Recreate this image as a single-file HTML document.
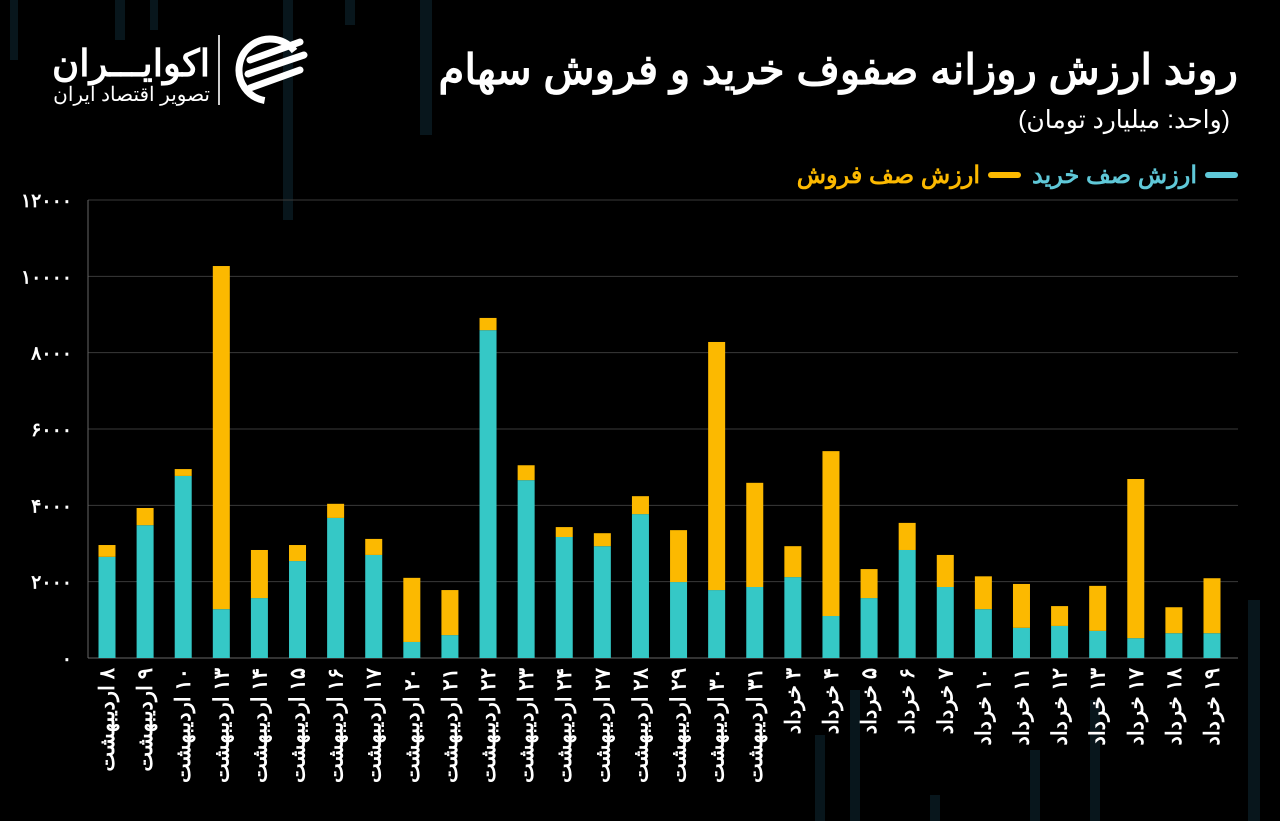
<!DOCTYPE html>
<html><head><meta charset="utf-8">
<style>
html,body{margin:0;padding:0;background:#000;}
#wrap{position:relative;width:1280px;height:821px;overflow:hidden;background:#000;font-family:"Liberation Sans","Noto Sans CJK SC",sans-serif;}
svg text{font-family:"Liberation Sans","Noto Sans CJK SC",sans-serif;}
</style></head>
<body>
<div id="wrap">
<svg id="chart" width="1280" height="821" xmlns="http://www.w3.org/2000/svg">
  <g id="bg" fill="#08161c">
    <rect x="10" y="0" width="8" height="60"/><rect x="115" y="0" width="10" height="40"/><rect x="150" y="0" width="8" height="30"/>
    <rect x="283" y="0" width="10" height="220"/><rect x="420" y="0" width="12" height="135"/><rect x="345" y="0" width="10" height="25"/>
    <rect x="1248" y="600" width="12" height="221"/><rect x="850" y="690" width="10" height="131"/><rect x="1030" y="750" width="10" height="71"/>
    <rect x="1090" y="700" width="10" height="121"/><rect x="815" y="735" width="10" height="86"/><rect x="930" y="795" width="10" height="26"/>
  </g>
  <g id="logo">
    <text x="210" y="76" fill="#fff" font-size="37" font-weight="bold" text-anchor="start" direction="rtl">اکوایـــران</text>
    <text x="210" y="101" fill="#fff" font-size="20" text-anchor="start" direction="rtl">تصویر اقتصاد ایران</text>
    <rect x="218" y="35" width="2" height="70" fill="#ccc"/>
    <g>
      <circle cx="270" cy="70" r="31" fill="none" stroke="#fff" stroke-width="7" stroke-dasharray="120 75" transform="rotate(100 270 70)"/>
      <path d="M250 60 L300 42 M248 74 L304 55 M250 88 L300 70" stroke="#fff" stroke-width="7" stroke-linecap="round"/>
    </g>
  </g>
  <text x="1238" y="84" fill="#fff" font-size="42" font-weight="bold" text-anchor="start" direction="rtl">روند ارزش روزانه صفوف خرید و فروش سهام</text>
  <text x="1230" y="128" fill="#fff" font-size="25" text-anchor="start" direction="rtl">(واحد: میلیارد تومان)</text>
  <g id="legend">
    <rect x="1205" y="172" width="33" height="6" rx="3" fill="#5fc8d8"/>
    <text x="1197" y="183" fill="#5fc8d8" font-size="24" font-weight="bold" text-anchor="start" direction="rtl">ارزش صف خرید</text>
    <rect x="988" y="172" width="33" height="6" rx="3" fill="#fcb900"/>
    <text x="980" y="183" fill="#fcb900" font-size="24" font-weight="bold" text-anchor="start" direction="rtl">ارزش صف فروش</text>
  </g>
  <g id="grid"></g><g id="bars"></g><g id="xlabels"></g><g id="ylabels"></g>
</svg>
</div>
<script>
const categories = ["۸ اردیبهشت","۹ اردیبهشت","۱۰ اردیبهشت","۱۳ اردیبهشت","۱۴ اردیبهشت","۱۵ اردیبهشت","۱۶ اردیبهشت","۱۷ اردیبهشت","۲۰ اردیبهشت","۲۱ اردیبهشت","۲۲ اردیبهشت","۲۳ اردیبهشت","۲۴ اردیبهشت","۲۷ اردیبهشت","۲۸ اردیبهشت","۲۹ اردیبهشت","۳۰ اردیبهشت","۳۱ اردیبهشت","۳ خرداد","۴ خرداد","۵ خرداد","۶ خرداد","۷ خرداد","۱۰ خرداد","۱۱ خرداد","۱۲ خرداد","۱۳ خرداد","۱۷ خرداد","۱۸ خرداد","۱۹ خرداد"];
const buyValues = [2650,3480,4770,1280,1570,2540,3670,2700,420,600,8590,4660,3170,2930,3770,1990,1780,1860,2120,1100,1570,2830,1860,1280,790,840,710,520,650,650];
const sellValues = [310,450,180,8990,1260,420,370,420,1680,1180,320,390,260,340,470,1360,6500,2730,810,4320,760,710,840,860,1150,520,1180,4170,680,1440];
const yTicks = [0,2000,4000,6000,8000,10000,12000];
const yTickLabels = ["۰","۲۰۰۰","۴۰۰۰","۶۰۰۰","۸۰۰۰","۱۰۰۰۰","۱۲۰۰۰"];

const NS="http://www.w3.org/2000/svg";
const x0=88,x1=1238,yB=658,yT=200,yMax=12000;
const y=v=>yB-(v/yMax)*(yB-yT);
const step=(1212-107)/(categories.length-1);
const xc=i=>107+i*step;
const bw=17;
function mk(tag,attrs,parent){const e=document.createElementNS(NS,tag);for(const k in attrs)e.setAttribute(k,attrs[k]);document.getElementById(parent).appendChild(e);return e;}
yTicks.forEach((t,i)=>{
  const l=mk('line',{x1:x0,x2:x1,y1:y(t),y2:y(t),stroke:'#3a3a3a','stroke-width':1},'grid');
  
  
  const tx=mk('text',{x:72,y:y(t)+7,fill:'#fff','font-size':19,'font-weight':'bold','text-anchor':'end'},'ylabels');
  tx.textContent=yTickLabels[i];
  
  
});
const ax=mk('line',{x1:x0,x2:x0,y1:yT,y2:yB,stroke:'#666','stroke-width':1},'grid');


const axb=mk('line',{x1:x0,x2:x1,y1:yB,y2:yB,stroke:'#666','stroke-width':1},'grid');


categories.forEach((c,i)=>{
  const b=buyValues[i],s=sellValues[i];
  const r1=mk('rect',{x:xc(i)-bw/2,y:y(b),width:bw,height:yB-y(b),fill:'#35c8c6'},'bars');
  
  
  const r2=mk('rect',{x:xc(i)-bw/2,y:y(b+s),width:bw,height:y(b)-y(b+s),fill:'#fcb900'},'bars');
  
  
  const t=mk('text',{x:0,y:0,fill:'#fff','font-size':21,'font-weight':'bold','text-anchor':'start',direction:'rtl',transform:`translate(${xc(i)+7},668) rotate(-90)`},'xlabels');
  t.textContent=c;
  
  
});
</script>
</body></html>
